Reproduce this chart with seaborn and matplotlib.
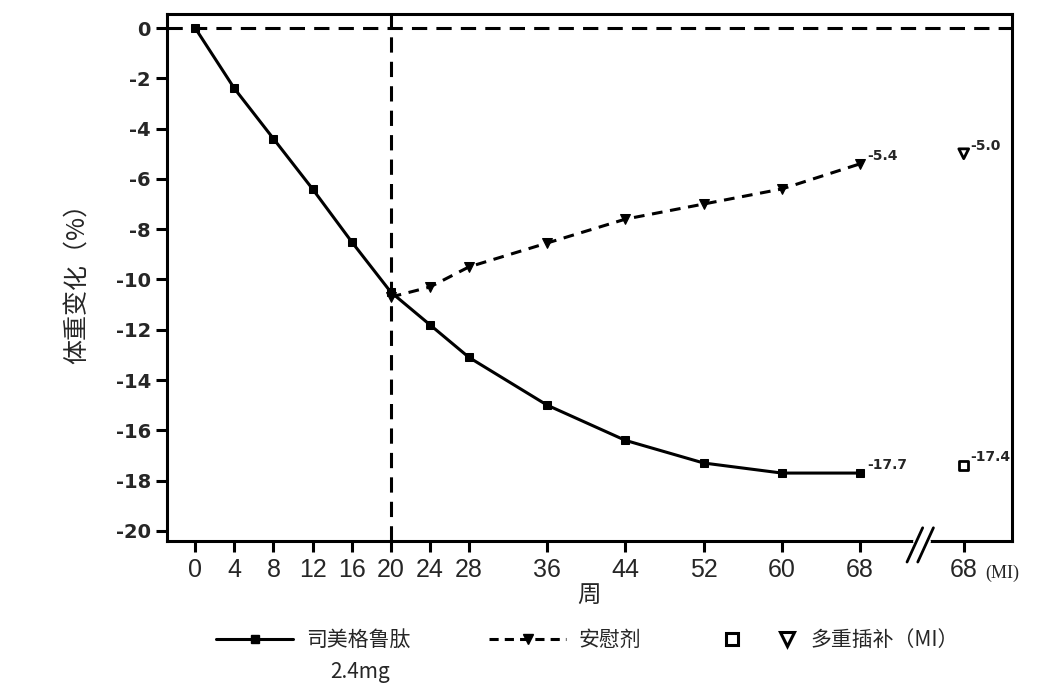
import matplotlib
matplotlib.use('Agg')
import matplotlib.pyplot as plt
import seaborn as sns
from matplotlib.lines import Line2D
from matplotlib.legend_handler import HandlerTuple
import matplotlib.transforms as mtransforms

sns.set_style('white')
plt.rcParams['font.family'] = ['Noto Sans CJK SC', 'DejaVu Sans']

# data
weeks_sema = [0, 4, 8, 12, 16, 20, 24, 28, 36, 44, 52, 60, 68]
sema = [0, -2.4, -4.4, -6.4, -8.5, -10.5, -11.8, -13.1, -15.0, -16.4, -17.3, -17.7, -17.7]
weeks_pbo = [20, 24, 28, 36, 44, 52, 60, 68]
placebo = [-10.7, -10.3, -9.5, -8.55, -7.6, -7.0, -6.4, -5.4]
mi_week = 78.6
mi_sema = -17.4
mi_pbo = -5.0
xticks = [0, 4, 8, 12, 16, 20, 24, 28, 36, 44, 52, 60, 68, mi_week]
xticklabels = ['0', '4', '8', '12', '16', '20', '24', '28', '36', '44', '52', '60', '68', '68']
yticks = list(range(0, -21, -2))

fig = plt.figure(figsize=(10.56, 6.98), dpi=100)
ax = fig.add_axes([0.158, 0.225, 0.800, 0.755])

# reference lines
ax.axhline(0, color='black', lw=2.2, dashes=(5, 3), zorder=1)
ax.axvline(20, color='black', lw=2.2, dashes=(5, 3), zorder=1)

sns.lineplot(x=weeks_sema, y=sema, ax=ax, color='black', lw=2.2,
             marker='s', markersize=5.5, markeredgecolor='black', zorder=3)
sns.lineplot(x=weeks_pbo, y=placebo, ax=ax, color='black', lw=2.2,
             marker='v', markersize=6.5, markeredgecolor='black', zorder=3)
ax.lines[-1].set_dashes((3.5, 2.5))

sns.scatterplot(x=[mi_week], y=[mi_sema], ax=ax, marker='s', s=45,
                fc='none', ec='black', linewidth=2, zorder=3)
sns.scatterplot(x=[mi_week], y=[mi_pbo], ax=ax, marker='v', s=50,
                fc='none', ec='black', linewidth=2, zorder=3)

# value labels
for x, y, t in [(68, -5.4, '-5.4'), (68, -17.7, '-17.7'),
                (mi_week, -5.0, '-5.0'), (mi_week, -17.4, '-17.4')]:
    ax.annotate(t, (x, y), xytext=(5, 3), textcoords='offset points',
                fontsize=10, fontweight='bold', family=['DejaVu Sans'])

ax.set_xlim(-2.9, 83.5)
ax.set_ylim(-20.4, 0.56)
ax.set_xticks(xticks)
ax.set_xticklabels(xticklabels, fontsize=18, family=['Liberation Sans'])
ax.set_yticks(yticks)
ax.set_yticklabels([str(v) for v in yticks], fontsize=14, fontweight='bold',
                   family=['DejaVu Sans'])
ax.tick_params(axis='both', direction='out', length=8, width=2.2, color='black',
               bottom=True, left=True)
ax.tick_params(axis='x', pad=4)
for s in ax.spines.values():
    s.set_color('black')
    s.set_linewidth(2.2)

trans = mtransforms.offset_copy(ax.transData, fig=fig, x=0, y=-17, units='points')
ax.text(mi_week + 2.2, -20.4, '(MI)', transform=trans, fontsize=13,
        family=['Liberation Serif'], va='top', ha='left')

# axis break marks
tb = mtransforms.blended_transform_factory(ax.transData, ax.transAxes)
ax.plot([73.7, 74.8], [0, 0], transform=tb, color='white', lw=5,
        clip_on=False, zorder=5)
ax.plot([72.8, 74.4], [-0.04, 0.025], transform=tb, color='black', lw=2,
        clip_on=False, zorder=6)
ax.plot([73.9, 75.5], [-0.04, 0.025], transform=tb, color='black', lw=2,
        clip_on=False, zorder=6)

ax.set_xlabel('周', fontsize=17, labelpad=2)
ax.set_ylabel('体重变化（%）', fontsize=18, labelpad=18)

# legend
h1 = Line2D([], [], color='black', lw=2.2, marker='s', markersize=6)
h2 = Line2D([], [], color='black', lw=2.2, dashes=(3, 2), marker='v', markersize=7)
h3a = Line2D([], [], ls='none', marker='s', mfc='none', mec='black', mew=2.2, markersize=9)
h3b = Line2D([], [], ls='none', marker='v', mfc='none', mec='black', mew=2.2, markersize=10)
fig.legend([h1, h2, (h3a, h3b)], ['司美格鲁肽', '安慰剂', '多重插补（MI）'],
           handler_map={tuple: HandlerTuple(ndivide=None, pad=1.6)},
           loc='center left', bbox_to_anchor=(0.187, 0.083), ncol=3,
           frameon=False, fontsize=15, handlelength=3.7, columnspacing=3.8,
           handletextpad=0.6)
fig.text(0.313, 0.037, '2.4mg', fontsize=15, ha='left', va='center')

fig.savefig('out.png', dpi=100)
